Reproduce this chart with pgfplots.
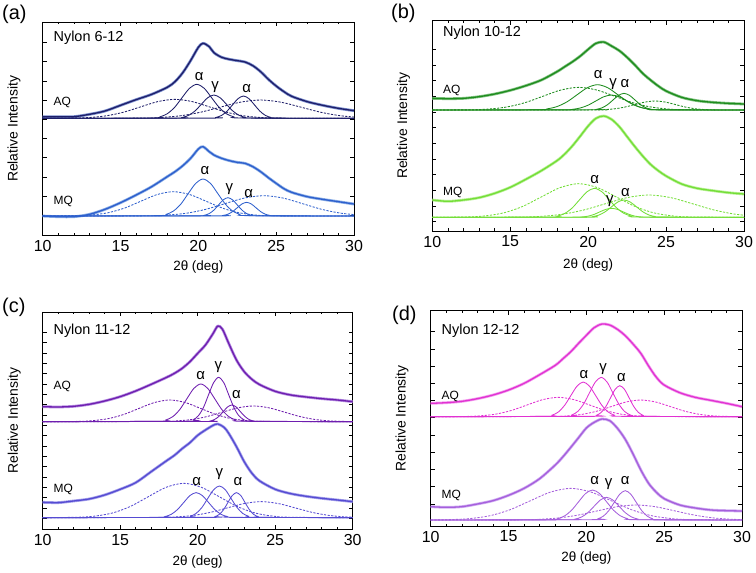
\documentclass[border=0pt]{standalone}
\usepackage{fontspec}
\setmainfont{Liberation Sans}
\usepackage{pgfplots}
\usepackage{pgfplotstable}
\pgfplotsset{compat=1.18}

\definecolor{aAQ}{RGB}{30,30,105}\definecolor{aAQh}{RGB}{120,140,205}
\definecolor{aMQ}{RGB}{45,95,205}\definecolor{aMQh}{RGB}{140,175,230}
\definecolor{bAQ}{RGB}{30,140,30}\definecolor{bAQh}{RGB}{130,195,130}
\definecolor{bMQ}{RGB}{115,222,55}\definecolor{bMQh}{RGB}{185,240,150}
\definecolor{cAQ}{RGB}{110,30,175}\definecolor{cAQh}{RGB}{180,140,225}
\definecolor{cMQ}{RGB}{85,75,210}\definecolor{cMQh}{RGB}{165,160,235}
\definecolor{dAQ}{RGB}{225,50,210}\definecolor{dAQh}{RGB}{242,160,238}
\definecolor{dMQ}{RGB}{165,95,220}\definecolor{dMQh}{RGB}{208,172,242}

\tikzset{
  lab/.style={font=\fontsize{15}{15}\selectfont, inner sep=0pt},
  slab/.style={font=\fontsize{12}{12}\selectfont, inner sep=0pt, anchor=west},
  tlab/.style={font=\fontsize{14.5}{15}\selectfont, inner sep=0pt, anchor=west},
}
\pgfplotsset{
  panel/.style={scale only axis, xmin=10, xmax=30, y dir=reverse, no markers,
    axis line style={line width=0.8bp}, xtick={10,15,20,25,30}, minor x tick num=4,
    tick align=inside, tick style={black, line width=0.6bp},
    major tick length=4bp, minor tick length=2.5bp, yticklabels={},
    xlabel={2θ (deg)}, ylabel={Relative Intensity},
    xlabel style={font=\fontsize{13.5}{14}\selectfont, at={(axis description cs:0.5,0)}, anchor=center},
    ylabel style={font=\fontsize{14}{14}\selectfont, at={(axis description cs:-0.092,0.5)}, anchor=center},
    xticklabel style={font=\fontsize{16}{16}\selectfont, yshift=-1.5bp},
    /pgf/number format/assume math mode=true},
  comp/.style={color=#1, line width=0.85bp, smooth},
  dcomp/.style={color=#1, line width=0.85bp, smooth, dash pattern=on 2.2bp off 1.4bp},
  halo/.style={color=#1, line width=2.8bp, smooth, line join=round},
  dat/.style={color=#1, line width=1.3bp, smooth, line join=round},
}

\pgfplotstableread{
x y
10 350
11 350
12 350
13 343
14 333
15 316
16 299
17 283
18 262
18.5 245
19 218
19.5 182
20 142
20.3 130
20.7 140
21 158
21.5 172
22 178
22.5 182
23 186
23.5 197
24 215
24.5 238
25 258
25.5 275
26 289
27 305
28 316
29 325
30 332
}\tAaq
\pgfplotstableread{
x y
10 648
11 650
12 650
13 643
14 628
15 608
16 585
17 560
18 530
18.5 515
19 497
19.5 475
20 447
20.3 440
20.7 455
21 465
21.5 475
22 482
22.5 487
23 490
23.5 500
24 515
24.5 533
25 550
25.5 566
26 577
27 590
28 598
29 605
30 612
}\tAmq
\pgfplotstableread{
x y
10 295
11 296
12 295
13 290
14 282
15 271
16 257
17 240
18 215
18.5 200
19 185
19.5 168
20 148
20.5 130
21 126
21.5 138
22 152
22.5 172
23 195
23.5 220
24 240
24.5 258
25 273
26 292
27 302
28 307
29 310
30 312
}\tBaq
\pgfplotstableread{
x y
10 600
11 604
12 600
13 593
14 580
15 562
16 538
17 512
18 482
18.5 462
19 437
19.5 408
20 378
20.5 355
21 348
21.5 358
22 380
22.5 410
23 440
23.5 468
24 493
24.5 512
25 528
26 552
27 565
28 572
29 578
30 582
}\tBmq
\pgfplotstableread{
x y
10 350
11 351
12 349
13 343
14 333
15 320
16 303
17 283
18 262
18.5 250
19 235
19.5 215
20 190
20.5 165
21 130
21.3 108
21.6 118
22 160
22.5 210
23 245
23.5 268
24 284
25 304
26 315
27 321
28 326
29 330
30 335
}\tCaq
\pgfplotstableread{
x y
10 637
11 638
12 633
13 627
14 615
15 598
16 578
17 545
18 512
18.5 496
19 476
19.5 458
20 436
20.5 420
21 406
21.3 402
21.7 412
22 430
22.5 470
23 515
23.5 550
24 573
25 598
26 611
27 619
28 625
29 630
30 635
}\tCmq
\pgfplotstableread{
x y
10 340
11 338
12 334
13 326
14 315
15 300
16 280
17 254
18 226
18.5 206
19 185
19.5 160
20 136
20.5 113
21 102
21.5 105
22 118
22.5 137
23 162
23.5 190
24 228
24.5 262
25 285
26 308
27 322
28 331
29 340
30 350
}\tDaq
\pgfplotstableread{
x y
10 650
11 652
12 650
13 642
14 632
15 616
16 595
17 566
18 525
18.5 500
19 472
19.5 443
20 414
20.5 397
21 387
21.5 392
22 415
22.5 448
23 492
23.5 540
24 580
24.5 607
25 626
26 645
27 654
28 660
29 662
30 663
}\tDmq

\begin{document}
\begin{tikzpicture}
\path[use as bounding box] (0,0) rectangle (756bp,573bp);
\node[font=\fontsize{20}{20}\selectfont, anchor=west, inner sep=0pt] at (2bp,558.5bp) {(a)};
\node[font=\fontsize{20}{20}\selectfont, anchor=west, inner sep=0pt] at (391bp,560bp) {(b)};
\node[font=\fontsize{20}{20}\selectfont, anchor=west, inner sep=0pt] at (2bp,266bp) {(c)};
\node[font=\fontsize{20}{20}\selectfont, anchor=west, inner sep=0pt] at (392bp,257.5bp) {(d)};

% ---------------- (a)
\begin{axis}[panel, at={(42.7bp,337.3bp)}, anchor=south west, width=311.3bp, height=213.7bp,
  ymin=66, ymax=707, ytick={127,184.7,242.4,300.1,357.8,415.5,473.2,530.9,588.6,646.3},
  xlabel style={yshift=-31bp}]
\addplot[halo=aAQh] table {\tAaq};
\addplot[dat=aAQ] table {\tAaq};
\addplot[halo=aMQh] table {\tAmq};
\addplot[dat=aMQ] table {\tAmq};
\addplot[dcomp=aAQ] coordinates {(10,355)(11.9,354.4)(13.0,352.5)(14.1,347.3)(15.2,336.5)(16.3,320.4)(17.4,304.7)(18.5,298)(19.6,304.7)(20.7,320.4)(21.8,336.5)(22.9,347.3)(24.0,352.5)(25.1,354.4)(30,355)};
\addplot[dcomp=aAQ] coordinates {(10,355)(16.2,354.4)(17.5,352.6)(18.8,347.6)(20.1,337.1)(21.4,321.6)(22.7,306.5)(24.0,300)(25.3,306.5)(26.6,321.6)(27.9,337.1)(29.2,347.6)(30.5,352.6)};
\addplot[comp=aAQ] coordinates {(10,355)(17.05,353.9)(17.53,350.5)(18.0,341.2)(18.48,321.8)(18.95,293.1)(19.43,265)(19.9,253)(20.38,265)(20.85,293.1)(21.33,321.8)(21.8,341.2)(22.28,350.5)(22.75,353.9)(30,355)};
\addplot[comp=aAQ] coordinates {(10,355)(18.6,354.2)(19.0,351.9)(19.4,345.5)(19.8,332.2)(20.2,312.5)(20.6,293.3)(21.0,285)(21.4,293.3)(21.8,312.5)(22.2,332.2)(22.6,345.5)(23.0,351.9)(23.4,354.2)(30,355)};
\addplot[comp=aAQ] coordinates {(10,355)(20.8,354.3)(21.15,352.1)(21.5,346)(21.85,333.2)(22.2,314.3)(22.55,295.9)(22.9,288)(23.25,295.9)(23.6,314.3)(23.95,333.2)(24.3,346)(24.65,352.1)(25.0,354.3)(30,355)};
\addplot[dcomp=aMQ] coordinates {(10,648)(12.1,647.2)(13.15,644.8)(14.2,638.1)(15.25,624.3)(16.3,603.7)(17.35,583.6)(18.4,575)(19.45,583.6)(20.5,603.7)(21.55,624.3)(22.6,638.1)(23.65,644.8)(24.7,647.2)(30,648)};
\addplot[dcomp=aMQ] coordinates {(10,648)(16.7,647.3)(17.95,645.3)(19.2,639.8)(20.45,628.2)(21.7,611)(22.95,594.2)(24.2,587)(25.45,594.2)(26.7,611)(27.95,628.2)(29.2,639.8)(30.45,645.3)};
\addplot[comp=aMQ] coordinates {(10,648)(17.45,646.8)(17.93,643.1)(18.4,633)(18.88,611.9)(19.35,580.6)(19.83,550.1)(20.3,537)(20.78,550.1)(21.25,580.6)(21.73,611.9)(22.2,633)(22.68,643.1)(23.15,646.8)(30,648)};
\addplot[comp=aMQ] coordinates {(10,648)(20.1,647.4)(20.4,645.6)(20.7,640.6)(21.0,630.1)(21.3,614.6)(21.6,599.5)(21.9,593)(22.2,599.5)(22.5,614.6)(22.8,630.1)(23.1,640.6)(23.4,645.6)(23.7,647.4)(30,648)};
\addplot[comp=aMQ] coordinates {(10,648)(21.3,647.5)(21.6,646.2)(21.9,642.5)(22.2,634.7)(22.5,623.1)(22.8,611.8)(23.1,607)(23.4,611.8)(23.7,623.1)(24.0,634.7)(24.3,642.5)(24.6,646.2)(24.9,647.5)(30,648)};
\node[tlab] at (axis cs:10.69,112) {Nylon 6-12};
\node[slab] at (axis cs:10.69,307) {AQ};
\node[slab] at (axis cs:10.69,605) {MQ};
\node[lab] at (axis cs:20.06,230) {α};
\node[lab] at (axis cs:21.07,260) {γ};
\node[lab] at (axis cs:23.1,265) {α};
\node[lab] at (axis cs:20.43,513) {α};
\node[lab] at (axis cs:22.0,568) {γ};
\node[lab] at (axis cs:23.23,580) {α};
\end{axis}

% ---------------- (b)
\begin{axis}[panel, at={(432.3bp,342bp)}, anchor=south west, width=311.7bp, height=210.3bp,
  ymin=62, ymax=693, ytick={148,195,242,289,336,383,430,477,524,571,618,665},
  xlabel style={yshift=-34bp}]
\addplot[halo=bAQh] table {\tBaq};
\addplot[dat=bAQ] table {\tBaq};
\addplot[halo=bMQh] table {\tBmq};
\addplot[dat=bMQ] table {\tBmq};
\addplot[dcomp=bAQ] coordinates {(10,330)(12.5,329.3)(13.65,327)(14.8,320.8)(15.95,307.9)(17.1,288.7)(18.25,270)(19.4,262)(20.55,270)(21.7,288.7)(22.85,307.9)(24.0,320.8)(25.15,327)(26.3,329.3)(30,330)};
\addplot[dcomp=bAQ] coordinates {(10,330)(20.4,329.7)(21.05,328.8)(21.7,326.4)(22.35,321.2)(23.0,313.6)(23.65,306.2)(24.3,303)(24.95,306.2)(25.6,313.6)(26.25,321.2)(26.9,326.4)(27.55,328.8)(28.2,329.7)(30,330)};
\addplot[comp=bAQ] coordinates {(10,330)(16.7,329.2)(17.35,326.7)(18.0,319.7)(18.65,305.3)(19.3,283.9)(19.95,263)(20.6,254)(21.25,263)(21.9,283.9)(22.55,305.3)(23.2,319.7)(23.85,326.7)(24.5,329.2)(30,330)};
\addplot[comp=bAQ] coordinates {(10,330)(18.5,329.5)(19.0,328)(19.5,323.9)(20.0,315.4)(20.5,302.7)(21.0,290.3)(21.5,285)(22.0,290.3)(22.5,302.7)(23.0,315.4)(23.5,323.9)(24.0,328)(24.5,329.5)(30,330)};
\addplot[comp=bAQ] coordinates {(10,330)(20.2,329.4)(20.55,327.8)(20.9,323.2)(21.25,313.8)(21.6,299.7)(21.95,285.9)(22.3,280)(22.65,285.9)(23.0,299.7)(23.35,313.8)(23.7,323.2)(24.05,327.8)(24.4,329.4)(30,330)};
\addplot[dcomp=bMQ] coordinates {(10,652)(12.2,650.9)(13.4,647.6)(14.6,638.4)(15.8,619.2)(17.0,590.7)(18.2,562.9)(19.4,551)(20.6,562.9)(21.8,590.7)(23.0,619.2)(24.2,638.4)(25.4,647.6)(26.6,650.9)(30,652)};
\addplot[dcomp=bMQ] coordinates {(10,652)(15.5,651.3)(16.9,649.1)(18.3,643)(19.7,630.2)(21.1,611.3)(22.5,592.9)(23.9,585)(25.3,592.9)(26.7,611.3)(28.1,630.2)(29.5,643)(30.9,649.1)};
\addplot[comp=bMQ] coordinates {(10,652)(17.55,651)(18.03,648.2)(18.5,640.3)(18.98,623.7)(19.45,599.2)(19.93,575.3)(20.4,565)(20.88,575.3)(21.35,599.2)(21.83,623.7)(22.3,640.3)(22.78,648.2)(23.25,651)(30,652)};
\addplot[comp=bMQ] coordinates {(10,652)(19.25,651.7)(19.63,650.8)(20.0,648.4)(20.38,643.2)(20.75,635.6)(21.13,628.2)(21.5,625)(21.88,628.2)(22.25,635.6)(22.63,643.2)(23.0,648.4)(23.38,650.8)(23.75,651.7)(30,652)};
\addplot[comp=bMQ] coordinates {(10,652)(19.9,651.4)(20.3,649.7)(20.7,645)(21.1,635.1)(21.5,620.4)(21.9,606.1)(22.3,600)(22.7,606.1)(23.1,620.4)(23.5,635.1)(23.9,645)(24.3,649.7)(24.7,651.4)(30,652)};
\node[tlab] at (axis cs:10.68,98) {Nylon 10-12};
\node[slab] at (axis cs:10.68,270) {AQ};
\node[slab] at (axis cs:10.68,578) {MQ};
\node[lab] at (axis cs:20.65,225) {α};
\node[lab] at (axis cs:21.6,252) {γ};
\node[lab] at (axis cs:22.36,252) {α};
\node[lab] at (axis cs:20.42,540) {α};
\node[lab] at (axis cs:21.4,603) {γ};
\node[lab] at (axis cs:22.4,578) {α};
\end{axis}

% ---------------- (c)
\begin{axis}[panel, at={(42.7bp,43.7bp)}, anchor=south west, width=310bp, height=217.3bp,
  ymin=66, ymax=718, ytick={127,158,189,220,251,282,313,344,375,406,437,468,499,530,561,592,623,654,685},
  xlabel style={yshift=-32.4bp}]
\addplot[halo=cAQh] table {\tCaq};
\addplot[dat=cAQ] table {\tCaq};
\addplot[halo=cMQh] table {\tCmq};
\addplot[dat=cMQ] table {\tCmq};
\addplot[dcomp=cAQ] coordinates {(10,395)(12.2,394.3)(13.2,392.1)(14.2,386.2)(15.2,373.9)(16.2,355.5)(17.2,337.7)(18.2,330)(19.2,337.7)(20.2,355.5)(21.2,373.9)(22.2,386.2)(23.2,392.1)(24.2,394.3)(30,395)};
\addplot[dcomp=cAQ] coordinates {(10,395)(17.6,394.5)(18.6,392.9)(19.6,388.7)(20.6,379.7)(21.6,366.5)(22.6,353.5)(23.6,348)(24.6,353.5)(25.6,366.5)(26.6,379.7)(27.6,388.7)(28.6,392.9)(29.6,394.5)(30,395)};
\addplot[comp=cAQ] coordinates {(10,395)(17.5,393.8)(17.95,390)(18.4,379.7)(18.85,358.3)(19.3,326.4)(19.75,295.3)(20.2,282)(20.65,295.3)(21.1,326.4)(21.55,358.3)(22.0,379.7)(22.45,390)(22.9,393.8)(30,395)};
\addplot[comp=cAQ] coordinates {(10,395)(19.4,393.5)(19.73,389.1)(20.05,377)(20.38,351.8)(20.7,314.3)(21.03,277.7)(21.35,262)(21.68,277.7)(22.0,314.3)(22.33,351.8)(22.65,377)(22.98,389.1)(23.3,393.5)(30,395)};
\addplot[comp=cAQ] coordinates {(10,395)(20.55,394.4)(20.83,392.8)(21.1,388.2)(21.38,378.8)(21.65,364.7)(21.93,350.9)(22.2,345)(22.48,350.9)(22.75,364.7)(23.03,378.8)(23.3,388.2)(23.58,392.8)(23.85,394.4)(30,395)};
\addplot[dcomp=cMQ] coordinates {(10,683)(12.2,681.9)(13.35,678.5)(14.5,669.1)(15.65,649.5)(16.8,620.5)(17.95,592.2)(19.1,580)(20.25,592.2)(21.4,620.5)(22.55,649.5)(23.7,669.1)(24.85,678.5)(26.0,681.9)(30,683)};
\addplot[dcomp=cMQ] coordinates {(10,683)(17.5,682.5)(18.6,680.9)(19.7,676.5)(20.8,667.4)(21.9,653.9)(23.0,640.7)(24.1,635)(25.2,640.7)(26.3,653.9)(27.4,667.4)(28.5,676.5)(29.6,680.9)(30.7,682.5)};
\addplot[comp=cMQ] coordinates {(10,683)(17.5,682.2)(17.9,679.7)(18.3,672.9)(18.7,658.6)(19.1,637.5)(19.5,616.8)(19.9,608)(20.3,616.8)(20.7,637.5)(21.1,658.6)(21.5,672.9)(21.9,679.7)(22.3,682.2)(30,683)};
\addplot[comp=cMQ] coordinates {(10,683)(19.15,682)(19.53,678.8)(19.9,670.2)(20.28,652.1)(20.65,625.3)(21.03,599.2)(21.4,588)(21.78,599.2)(22.15,625.3)(22.53,652.1)(22.9,670.2)(23.28,678.8)(23.65,682)(30,683)};
\addplot[comp=cMQ] coordinates {(10,683)(20.85,682.2)(21.13,679.7)(21.4,672.9)(21.68,658.6)(21.95,637.5)(22.23,616.8)(22.5,608)(22.78,616.8)(23.05,637.5)(23.33,658.6)(23.6,672.9)(23.88,679.7)(24.15,682.2)(30,683)};
\node[tlab] at (axis cs:10.69,122) {Nylon 11-12};
\node[slab] at (axis cs:10.69,290) {AQ};
\node[slab] at (axis cs:10.69,598) {MQ};
\node[lab] at (axis cs:20.2,258) {α};
\node[lab] at (axis cs:21.33,232) {γ};
\node[lab] at (axis cs:22.5,315) {α};
\node[lab] at (axis cs:19.94,575) {α};
\node[lab] at (axis cs:21.4,553) {γ};
\node[lab] at (axis cs:22.6,575) {α};
\end{axis}

% ---------------- (d)
\begin{axis}[panel, at={(430.7bp,47bp)}, anchor=south west, width=311.3bp, height=215.3bp,
  ymin=62, ymax=708, ytick={125,177,228,280,332,383,435,487,538,590,642},
  xlabel style={yshift=-32.3bp}]
\addplot[halo=dAQh] table {\tDaq};
\addplot[dat=dAQ] table {\tDaq};
\addplot[halo=dMQh] table {\tDmq};
\addplot[dat=dMQ] table {\tDmq};
\addplot[dcomp=dAQ] coordinates {(10,380)(12.2,379.4)(13.2,377.4)(14.2,372.2)(15.2,361.1)(16.2,344.8)(17.2,328.8)(18.2,322)(19.2,328.8)(20.2,344.8)(21.2,361.1)(22.2,372.2)(23.2,377.4)(24.2,379.4)(30,380)};
\addplot[dcomp=dAQ] coordinates {(10,380)(17.8,379.4)(18.75,377.8)(19.7,373.2)(20.65,363.8)(21.6,349.7)(22.55,335.9)(23.5,330)(24.45,335.9)(25.4,349.7)(26.35,363.8)(27.3,373.2)(28.25,377.8)(29.2,379.4)(30,380)};
\addplot[comp=dAQ] coordinates {(10,380)(17.4,378.9)(17.8,375.4)(18.2,366)(18.6,346.2)(19.0,316.9)(19.4,288.3)(19.8,276)(20.2,288.3)(20.6,316.9)(21.0,346.2)(21.4,366)(21.8,375.4)(22.2,378.9)(30,380)};
\addplot[comp=dAQ] coordinates {(10,380)(18.7,378.7)(19.08,374.8)(19.45,364.1)(19.83,341.6)(20.2,308.4)(20.58,275.9)(20.95,262)(21.33,275.9)(21.7,308.4)(22.08,341.6)(22.45,364.1)(22.83,374.8)(23.2,378.7)(30,380)};
\addplot[comp=dAQ] coordinates {(10,380)(20.35,379)(20.65,375.9)(20.95,367.4)(21.25,349.8)(21.55,323.6)(21.85,298)(22.15,287)(22.45,298)(22.75,323.6)(23.05,349.8)(23.35,367.4)(23.65,375.9)(23.95,379)(30,380)};
\addplot[dcomp=dMQ] coordinates {(10,690)(11.2,689)(12.5,685.8)(13.8,677.2)(15.1,659.1)(16.4,632.3)(17.7,606.2)(19.0,595)(20.3,606.2)(21.6,632.3)(22.9,659.1)(24.2,677.2)(25.5,685.8)(26.8,689)(30,690)};
\addplot[dcomp=dMQ] coordinates {(10,690)(15.7,689.5)(16.95,688)(18.2,683.9)(19.45,675.4)(20.7,662.7)(21.95,650.3)(23.2,645)(24.45,650.3)(25.7,662.7)(26.95,675.4)(28.2,683.9)(29.45,688)(30.7,689.5)};
\addplot[comp=dMQ] coordinates {(10,690)(17.7,689)(18.15,686)(18.6,677.8)(19.05,660.8)(19.5,635.4)(19.95,610.6)(20.4,600)(20.85,610.6)(21.3,635.4)(21.75,660.8)(22.2,677.8)(22.65,686)(23.1,689)(30,690)};
\addplot[comp=dMQ] coordinates {(10,690)(18.9,689.3)(19.3,687)(19.7,680.8)(20.1,667.9)(20.5,648.7)(20.9,630)(21.3,622)(21.7,630)(22.1,648.7)(22.5,667.9)(22.9,680.8)(23.3,687)(23.7,689.3)(30,690)};
\addplot[comp=dMQ] coordinates {(10,690)(20.4,689)(20.75,686.1)(21.1,678.1)(21.45,661.4)(21.8,636.6)(22.15,612.4)(22.5,602)(22.85,612.4)(23.2,636.6)(23.55,661.4)(23.9,678.1)(24.25,686.1)(24.6,689)(30,690)};
\node[tlab] at (axis cs:10.69,122) {Nylon 12-12};
\node[slab] at (axis cs:10.69,318) {AQ};
\node[slab] at (axis cs:10.69,615) {MQ};
\node[lab] at (axis cs:19.85,253) {α};
\node[lab] at (axis cs:21.07,238) {γ};
\node[lab] at (axis cs:22.25,262) {α};
\node[lab] at (axis cs:20.54,573) {α};
\node[lab] at (axis cs:21.43,583) {γ};
\node[lab] at (axis cs:22.5,573) {α};
\end{axis}
\end{tikzpicture}
\end{document}
